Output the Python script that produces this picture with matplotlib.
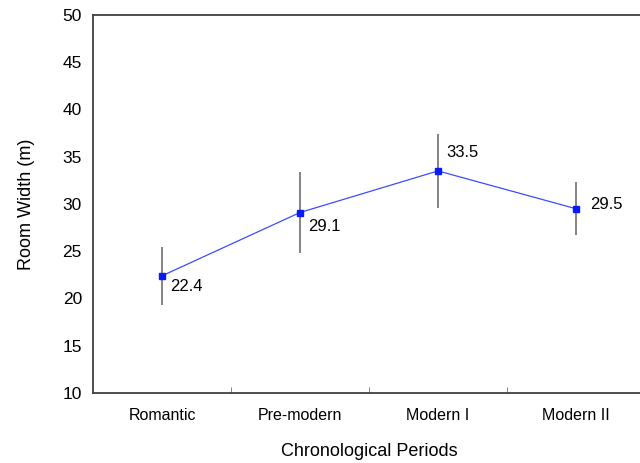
import numpy as np
import matplotlib
matplotlib.use('Agg')
import matplotlib.pyplot as plt

plt.rcParams['font.family'] = ['Liberation Sans', 'DejaVu Sans']

periods = ['Romantic', 'Pre-modern', 'Modern I', 'Modern II']
width_mean = [22.4, 29.1, 33.5, 29.5]
err_low = [3.1, 4.3, 3.9, 2.8]
err_high = [3.1, 4.3, 3.9, 2.8]
label_offsets = [(6, -8), (6, -10), (6, 13), (10, 3)]

fig = plt.figure(figsize=(6.4, 4.63), dpi=100)
ax = fig.add_axes([93/640, (463-393)/463, 552/640, 378/463])

x = np.arange(len(periods))
ax.errorbar(x, width_mean, yerr=[err_low, err_high], fmt='none',
            ecolor='#707070', elinewidth=1.2, capsize=0, zorder=1)
ax.plot(x, width_mean, '-', color='#3b4cff', linewidth=0.9, zorder=2)
ax.plot(x, width_mean, 's', color='#0a1aff', markersize=4.5, zorder=3)

for xi, yi, (dx, dy) in zip(x, width_mean, label_offsets):
    ax.annotate(f'{yi:.1f}', (xi, yi), xytext=(dx, dy), textcoords='offset points',
                ha='left', va='center', fontsize=12)

ax.set_xlim(-0.5, len(periods) - 0.5)
ax.set_ylim(10, 50)
ax.set_yticks(np.arange(10, 51, 5))
ax.tick_params(axis='y', length=0, labelsize=12.5, pad=8)

ax.set_xticks(x)
ax.set_xticklabels(periods)
ax.set_xticks(x[:-1] + 0.5, minor=True)
ax.tick_params(axis='x', which='major', length=0, labelsize=11.5, pad=11)
ax.tick_params(axis='x', which='minor', direction='in', length=4, color='#707070')

for s in ['left', 'top', 'bottom']:
    ax.spines[s].set_color('#404040')
    ax.spines[s].set_linewidth(1.3)
ax.spines['right'].set_visible(False)

ax.set_xlabel('Chronological Periods', fontsize=13, labelpad=14)
ax.set_ylabel('Room Width (m)', fontsize=13, labelpad=20)

fig.savefig('out.png', dpi=100)
